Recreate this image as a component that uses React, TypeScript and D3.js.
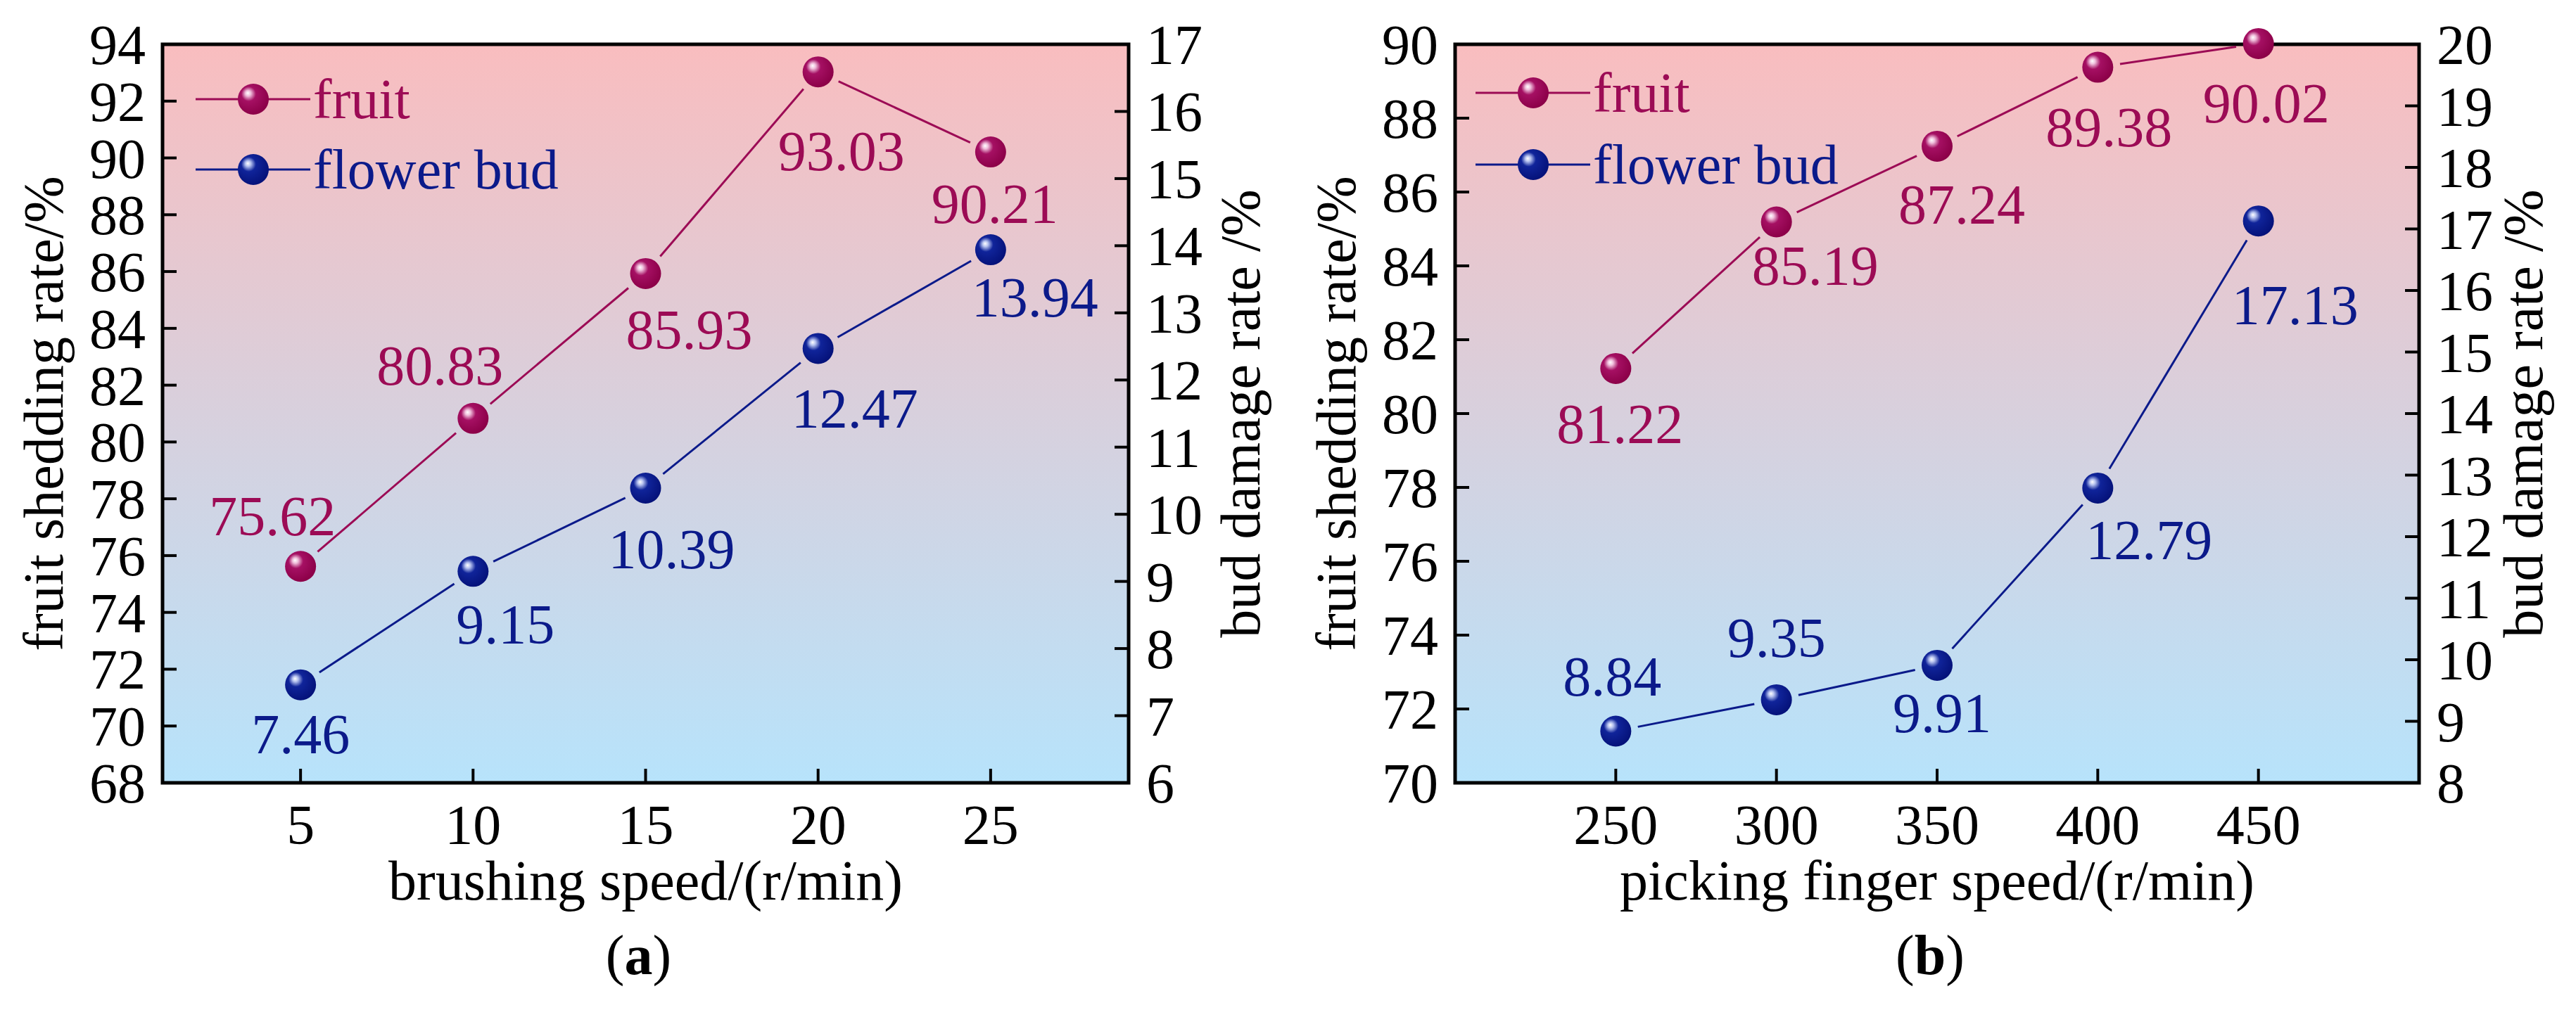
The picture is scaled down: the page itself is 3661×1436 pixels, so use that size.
import React from "react";
import * as d3 from "d3";

// panel (a): brushing speed
const speedsA = [5, 10, 15, 20, 25];
const fruitA = [75.62, 80.83, 85.93, 93.03, 90.21];
const budA = [7.46, 9.15, 10.39, 12.47, 13.94];
const xTicksA = [5, 10, 15, 20, 25];
const leftTicksA = [68, 70, 72, 74, 76, 78, 80, 82, 84, 86, 88, 90, 92, 94];
const rightTicksA = [6, 7, 8, 9, 10, 11, 12, 13, 14, 15, 16, 17];

// panel (b): picking finger speed
const speedsB = [250, 300, 350, 400, 450];
const fruitB = [81.22, 85.19, 87.24, 89.38, 90.02];
const budB = [8.84, 9.35, 9.91, 12.79, 17.13];
const xTicksB = [250, 300, 350, 400, 450];
const leftTicksB = [70, 72, 74, 76, 78, 80, 82, 84, 86, 88, 90];
const rightTicksB = [8, 9, 10, 11, 12, 13, 14, 15, 16, 17, 18, 19, 20];

const seriesNames = ["fruit", "flower bud"];

// label placement (dx, dy of baseline from point), layout only
const fruitLabelPosA = [[-40, -44], [-47, -48], [62, 107], [33, 140], [6, 101]];
const budLabelPosA = [[0, 97], [46, 103], [37, 114], [52, 113], [63, 95]];
const fruitLabelPosB = [[6, 106], [55, 89], [35, 110], [16, 112], [11, 112]];
const budLabelPosB = [[-5, -51], [0, -61], [7, 95], [73, 101], [52, 147]];

const FRUIT = "#9c0b55";
const BUD = "#0b1a8a";
const FONT = "'Liberation Serif', 'Times New Roman', serif";
const FS = 80;
const R = 22;
const GAP = 32;

type Panel = {
  id: string;
  left: number; right: number; top: number; bottom: number;
  xDomain: [number, number];
  yLeft: [number, number];
  yRight: [number, number];
  xs: number[]; fruit: number[]; bud: number[];
  xTicks: number[]; leftTicks: number[]; rightTicks: number[];
  fruitPos: number[][]; budPos: number[][];
  xTitle: string; tag: string;
  legendX: number; legendY: number[];
  rightTitleOff: number;
};

const panels: Panel[] = [
  {
    id: "a", left: 231, right: 1604, top: 63, bottom: 1113,
    xDomain: [1, 29], yLeft: [68, 94], yRight: [6, 17],
    xs: speedsA, fruit: fruitA, bud: budA,
    xTicks: xTicksA, leftTicks: leftTicksA, rightTicks: rightTicksA,
    fruitPos: fruitLabelPosA, budPos: budLabelPosA,
    xTitle: "brushing speed/(r/min)", tag: "a",
    legendX: 278, legendY: [141, 241], rightTitleOff: 186,
  },
  {
    id: "b", left: 2068, right: 3438, top: 63, bottom: 1113,
    xDomain: [200, 500], yLeft: [70, 90], yRight: [8, 20],
    xs: speedsB, fruit: fruitB, bud: budB,
    xTicks: xTicksB, leftTicks: leftTicksB, rightTicks: rightTicksB,
    fruitPos: fruitLabelPosB, budPos: budLabelPosB,
    xTitle: "picking finger speed/(r/min)", tag: "b",
    legendX: 2097, legendY: [132, 234], rightTitleOff: 175,
  },
];

function Segments({ pts, color }: { pts: [number, number][]; color: string }) {
  const segs = d3.pairs(pts).map(([p, q], i) => {
    const dx = q[0] - p[0], dy = q[1] - p[1];
    const len = Math.hypot(dx, dy);
    const ux = dx / len, uy = dy / len;
    return (
      <line key={i}
        x1={p[0] + ux * GAP} y1={p[1] + uy * GAP}
        x2={q[0] - ux * GAP} y2={q[1] - uy * GAP}
        stroke={color} strokeWidth={3} />
    );
  });
  return <g>{segs}</g>;
}

function ChartPanel({ p }: { p: Panel }) {
  const x = d3.scaleLinear().domain(p.xDomain).range([p.left, p.right]);
  const yL = d3.scaleLinear().domain(p.yLeft).range([p.bottom, p.top]);
  const yR = d3.scaleLinear().domain(p.yRight).range([p.bottom, p.top]);
  const fruitPts: [number, number][] = p.xs.map((v, i) => [x(v), yL(p.fruit[i])]);
  const budPts: [number, number][] = p.xs.map((v, i) => [x(v), yR(p.bud[i])]);
  const cx = (p.left + p.right) / 2;
  const cy = (p.top + p.bottom) / 2;
  const tick = 20;

  return (
    <g>
      <rect x={p.left} y={p.top} width={p.right - p.left} height={p.bottom - p.top}
        fill={`url(#bg-${p.id})`} />
      {/* frame */}
      <rect x={p.left} y={p.top} width={p.right - p.left} height={p.bottom - p.top}
        fill="none" stroke="#000" strokeWidth={5} />
      {/* ticks */}
      {p.leftTicks.map((t) => (
        <g key={"l" + t}>
          <line x1={p.left} x2={p.left + tick} y1={yL(t)} y2={yL(t)} stroke="#000" strokeWidth={4} />
          <text x={p.left - 24} y={yL(t)} dy="0.35em" textAnchor="end" fontSize={FS}>{t}</text>
        </g>
      ))}
      {p.rightTicks.map((t) => (
        <g key={"r" + t}>
          <line x1={p.right} x2={p.right - tick} y1={yR(t)} y2={yR(t)} stroke="#000" strokeWidth={4} />
          <text x={p.right + 25} y={yR(t)} dy="0.35em" textAnchor="start" fontSize={FS}>{t}</text>
        </g>
      ))}
      {p.xTicks.map((t) => (
        <g key={"x" + t}>
          <line x1={x(t)} x2={x(t)} y1={p.bottom} y2={p.bottom - tick} stroke="#000" strokeWidth={4} />
          <text x={x(t)} y={p.bottom + 87} textAnchor="middle" fontSize={FS}>{t}</text>
        </g>
      ))}
      {/* axis titles */}
      <text transform={`translate(${p.left - 142},${cy}) rotate(-90)`} textAnchor="middle" fontSize={FS}>
        fruit shedding rate/%
      </text>
      <text transform={`translate(${p.right + p.rightTitleOff},${cy}) rotate(-90)`} textAnchor="middle" fontSize={FS}>
        bud damage rate /%
      </text>
      <text x={cx} y={p.bottom + 166} textAnchor="middle" fontSize={FS}>{p.xTitle}</text>
      <text x={cx - 10} y={p.bottom + 272} textAnchor="middle" fontSize={FS}>
        (<tspan fontWeight="bold">{p.tag}</tspan>)
      </text>

      {/* series */}
      <Segments pts={fruitPts} color={FRUIT} />
      <Segments pts={budPts} color={BUD} />
      {fruitPts.map(([px, py], i) => (
        <circle key={"fm" + i} cx={px} cy={py} r={R} fill="url(#ball-fruit)" />
      ))}
      {budPts.map(([px, py], i) => (
        <circle key={"bm" + i} cx={px} cy={py} r={R} fill="url(#ball-bud)" />
      ))}
      {fruitPts.map(([px, py], i) => (
        <text key={"fl" + i} x={px + p.fruitPos[i][0]} y={py + p.fruitPos[i][1]}
          textAnchor="middle" fontSize={FS} fill={FRUIT}>
          {p.fruit[i].toFixed(2)}
        </text>
      ))}
      {budPts.map(([px, py], i) => (
        <text key={"bl" + i} x={px + p.budPos[i][0]} y={py + p.budPos[i][1]}
          textAnchor="middle" fontSize={FS} fill={BUD}>
          {p.bud[i].toFixed(2)}
        </text>
      ))}

      {/* legend */}
      {seriesNames.map((name, i) => {
        const color = i === 0 ? FRUIT : BUD;
        const ly = p.legendY[i];
        return (
          <g key={name}>
            <line x1={p.legendX} x2={p.legendX + 163} y1={ly} y2={ly} stroke={color} strokeWidth={3} />
            <circle cx={p.legendX + 82} cy={ly} r={R} fill={i === 0 ? "url(#ball-fruit)" : "url(#ball-bud)"} />
            <text x={p.legendX + 167} y={ly + 27} fontSize={FS} fill={color}>{name}</text>
          </g>
        );
      })}
    </g>
  );
}

export default function App() {
  return (
    <svg width={3661} height={1436} style={{ position: "absolute", left: 0, top: 0, background: "#fff" }}
      fontFamily={FONT}>
      <defs>
        {panels.map((p) => (
          <linearGradient key={p.id} id={`bg-${p.id}`} x1="0" y1="0" x2="0" y2="1">
            <stop offset="0%" stopColor="#f9bdbf" />
            <stop offset="100%" stopColor="#b7e3fb" />
          </linearGradient>
        ))}
        <radialGradient id="ball-fruit" cx="0.4" cy="0.38" r="0.62" fx="0.32" fy="0.3">
          <stop offset="0%" stopColor="#ffffff" />
          <stop offset="14%" stopColor="#f0c0dc" />
          <stop offset="38%" stopColor="#a51063" />
          <stop offset="100%" stopColor="#8c0048" />
        </radialGradient>
        <radialGradient id="ball-bud" cx="0.4" cy="0.38" r="0.62" fx="0.32" fy="0.3">
          <stop offset="0%" stopColor="#ffffff" />
          <stop offset="14%" stopColor="#b8c4f0" />
          <stop offset="38%" stopColor="#10249a" />
          <stop offset="100%" stopColor="#05127a" />
        </radialGradient>
      </defs>
      {panels.map((p) => <ChartPanel key={p.id} p={p} />)}
    </svg>
  );
}
